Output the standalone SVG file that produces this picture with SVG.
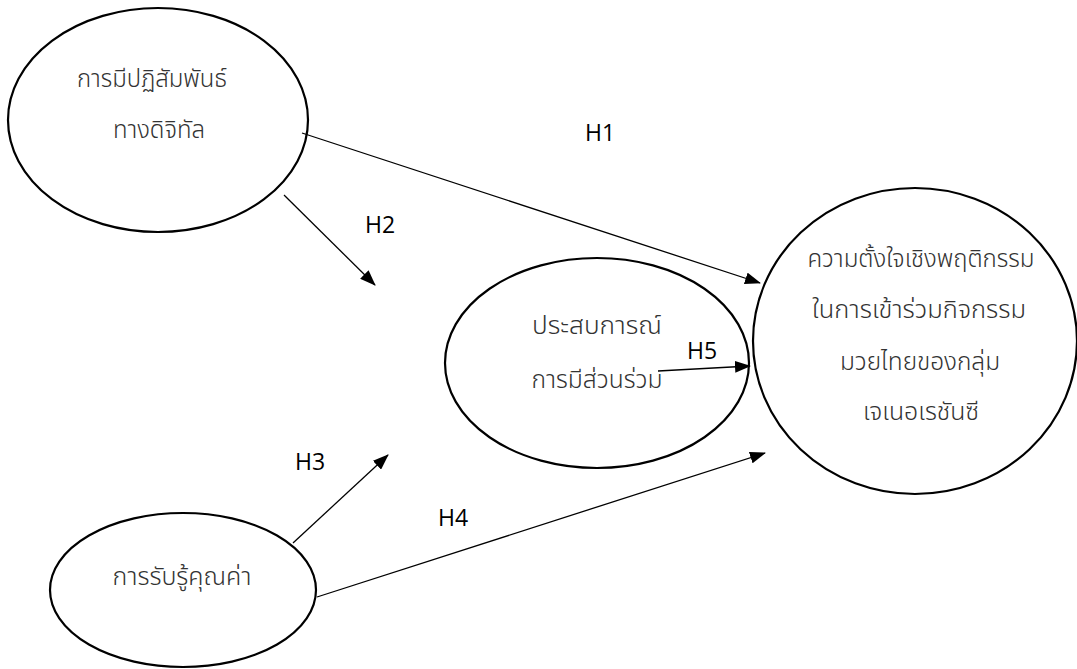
<svg xmlns="http://www.w3.org/2000/svg" width="1077" height="669" viewBox="0 0 1077 669">
<style>
.node{fill:#fff;stroke:#000;stroke-width:2.2}
.th{font-family:"Noto Sans Thai","Noto Sans","DejaVu Sans",sans-serif;font-size:24px;font-weight:300;fill:#333;text-anchor:middle}
.lbl{font-family:"Open Sans","Liberation Sans",sans-serif;font-size:23px;fill:#000}
.conn line{stroke:#000;stroke-width:1.3;marker-end:url(#ah)}
</style>
<defs>
<marker id="ah" markerWidth="16" markerHeight="12" refX="15" refY="6" orient="auto" markerUnits="userSpaceOnUse">
<path d="M0,0 L16,6 L0,12 Z" fill="#000"/>
</marker>
</defs>
<rect width="1077" height="669" fill="#fff"/>
<g id="n1">
<ellipse class="node" cx="158" cy="120" rx="150" ry="112"/>
<text class="th" x="152" y="87" textLength="150" lengthAdjust="spacingAndGlyphs">การมีปฏิสัมพันธ์</text>
<text class="th" x="159" y="138" textLength="92" lengthAdjust="spacingAndGlyphs">ทางดิจิทัล</text>
</g>
<g id="n2">
<ellipse class="node" cx="597" cy="363" rx="152" ry="105"/>
<text class="th" x="597" y="334" textLength="130" lengthAdjust="spacingAndGlyphs">ประสบการณ์</text>
<text class="th" x="597" y="388" textLength="131" lengthAdjust="spacingAndGlyphs">การมีส่วนร่วม</text>
</g>
<g id="n3">
<ellipse class="node" cx="915" cy="341" rx="162" ry="153"/>
<text class="th" x="921" y="267" textLength="227" lengthAdjust="spacingAndGlyphs">ความตั้งใจเชิงพฤติกรรม</text>
<text class="th" x="919" y="318" textLength="214" lengthAdjust="spacingAndGlyphs">ในการเข้าร่วมกิจกรรม</text>
<text class="th" x="920" y="370" textLength="160" lengthAdjust="spacingAndGlyphs">มวยไทยของกลุ่ม</text>
<text class="th" x="921" y="420" textLength="116" lengthAdjust="spacingAndGlyphs">เจเนอเรชันซี</text>
</g>
<g id="n4">
<ellipse class="node" cx="183" cy="590" rx="133" ry="77"/>
<text class="th" x="182" y="585" textLength="139" lengthAdjust="spacingAndGlyphs">การรับรู้คุณค่า</text>
</g>
<g id="connectors" class="conn">
<line x1="302" y1="133" x2="760" y2="283"/>
<line x1="284" y1="195" x2="375" y2="285"/>
<line x1="293" y1="543" x2="388" y2="455"/>
<line x1="317" y1="597" x2="765" y2="453"/>
<line x1="658" y1="371" x2="750" y2="366"/>
</g>
<g id="labels">
<text class="lbl" x="585" y="141">H1</text>
<text class="lbl" x="365" y="233">H2</text>
<text class="lbl" x="295" y="470">H3</text>
<text class="lbl" x="438" y="526">H4</text>
<text class="lbl" x="687" y="359">H5</text>
</g>
</svg>
